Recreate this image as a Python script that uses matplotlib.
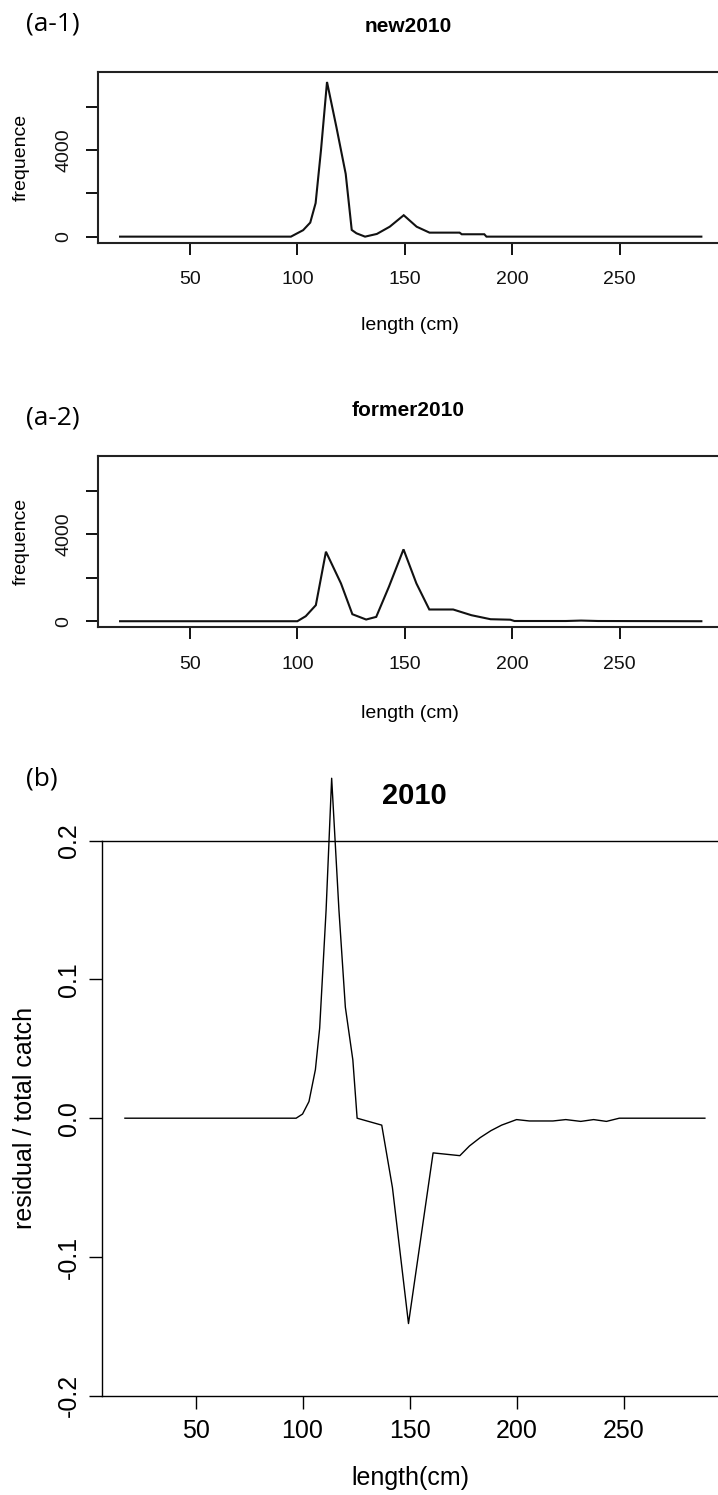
import matplotlib
matplotlib.use("Agg")
import matplotlib.pyplot as plt

# ---------------- data ----------------
new_len = [17.5, 97, 102.7, 106, 108.5, 111, 113.8, 118.2, 122.5, 125.3, 127.5,
           131.5, 137, 143, 149.5, 155.5, 161.5, 175.5, 176.5, 187, 188, 288]
new_freq = [0, 0, 300, 650, 1550, 4000, 7150, 5050, 2900, 310, 155,
            0, 125, 460, 990, 460, 185, 185, 110, 110, 0, 0]

former_len = [17.5, 100, 103.9, 108.6, 113.3, 120.3, 125.6, 132, 136.7, 142.6,
              149.4, 155.4, 161.4, 172.5, 181, 189.9, 199.1, 201, 225, 232, 240, 288]
former_freq = [0, 0, 231, 739, 3202, 1740, 323, 78, 200, 1586,
               3311, 1740, 540, 540, 277, 92, 70, 10, 10, 30, 10, 0]

resid_len = [17, 97, 100, 103, 106, 108, 111, 113.6, 117, 120, 123.5, 125.5,
             137, 142, 149.5, 161, 173.5, 178, 183, 188, 193, 200, 206, 217,
             223, 230, 236, 242, 248, 288]
resid_val = [0, 0, 0.003, 0.012, 0.035, 0.065, 0.15, 0.245, 0.15, 0.08, 0.042, 0.0,
             -0.005, -0.05, -0.148, -0.025, -0.027, -0.02, -0.014, -0.009, -0.005,
             -0.001, -0.002, -0.002, -0.001, -0.0023, -0.001, -0.0023, 0, 0]

x_ticks = [50, 100, 150, 200, 250]
freq_ticks = [0, 2000, 4000, 6000]
freq_labels = ["0", "", "4000", ""]
resid_ticks = [-0.2, -0.1, 0.0, 0.1, 0.2]
resid_labels = ["-0.2", "-0.1", "0.0", "0.1", "0.2"]

# ---------------- layout ----------------
W, H = 718, 1495
DPI = 100
plt.rcParams['font.family'] = ['Liberation Sans', 'DejaVu Sans']

fig = plt.figure(figsize=(W / DPI, H / DPI), dpi=DPI)


def fx(px):
    return px / W


def fy(py):
    return 1 - py / H


def pt(px):
    return px * 72 / DPI


def freq_panel(rect_px, xs, ys, title, title_y, tag, tag_y, xlabel_y):
    l, t, r, b = rect_px
    ax = fig.add_axes([fx(l), fy(b), (r - l) / W, (b - t) / H])
    ax.plot(xs, ys, color="#111111", lw=1.5, solid_joinstyle="miter")
    ax.set_xlim(7, 299)
    ax.set_ylim(-280, 7625)
    ax.set_xticks(x_ticks)
    ax.set_xticklabels([str(v) for v in x_ticks])
    ax.set_yticks(freq_ticks)
    ax.set_yticklabels(freq_labels, rotation=90, va="center", ha="center")
    for lbl in ax.get_xticklabels():
        lbl.set_va("center")
    ax.tick_params(axis="both", direction="out", length=pt(11.7), width=1.4,
                   labelsize=14, colors="#111111")
    ax.tick_params(axis="x", pad=pt(37.3 - 11.7))
    ax.tick_params(axis="y", pad=pt(33.5 - 11.7))
    for s in ax.spines.values():
        s.set_linewidth(1.5)
        s.set_color("#222222")
    fig.text(fx(408), fy(title_y), title, ha="center", va="center",
             fontsize=15, fontweight="bold")
    fig.text(fx(410), fy(xlabel_y), "length (cm)", ha="center", va="center",
             fontsize=14)
    fig.text(fx(21), fy((t + b) / 2), "frequence", ha="center", va="center",
             rotation=90, fontsize=14)
    fig.text(fx(26), fy(tag_y), tag, ha="left", va="center", fontsize=19,
             family=["Open Sans", "DejaVu Sans"])
    return ax


freq_panel((97.5, 71.7, 725, 242.7), new_len, new_freq, "new2010", 27,
           "(a-1)", 24, 326)
freq_panel((97.5, 455.7, 725, 627.3), former_len, former_freq, "former2010", 410.5,
           "(a-2)", 418, 713)

# ---------------- residual panel ----------------
l, t, r, b = 101.6, 840.7, 728, 1395.7
ax3 = fig.add_axes([fx(l), fy(b), (r - l) / W, (b - t) / H])
ax3.plot(resid_len, resid_val, color="black", lw=1.0, clip_on=False)
ax3.set_xlim(6.1, 298.8)
ax3.set_ylim(-0.2, 0.2)
ax3.set_xticks(x_ticks)
ax3.set_xticklabels([str(v) for v in x_ticks])
ax3.set_yticks(resid_ticks)
ax3.set_yticklabels(resid_labels, rotation=90, va="center", ha="center")
for lbl in ax3.get_xticklabels():
    lbl.set_va("center")
ax3.tick_params(axis="both", direction="out", length=pt(12.7), width=1.0,
                labelsize=18, colors="black")
ax3.tick_params(axis="x", pad=pt(35.3 - 12.7))
ax3.tick_params(axis="y", pad=pt(32.9 - 12.7))
for s in ax3.spines.values():
    s.set_linewidth(1.0)
fig.text(fx(414), fy(795.5), "2010", ha="center", va="center",
         fontsize=21, fontweight="bold")
fig.text(fx(410), fy(1478), "length(cm)", ha="center", va="center", fontsize=18)
fig.text(fx(25), fy((t + b) / 2), "residual / total catch", ha="center",
         va="center", rotation=90, fontsize=18)
fig.text(fx(26), fy(779), "(b)", ha="left", va="center", fontsize=19,
         family=["Open Sans", "DejaVu Sans"])

fig.savefig("out.png", dpi=DPI)
